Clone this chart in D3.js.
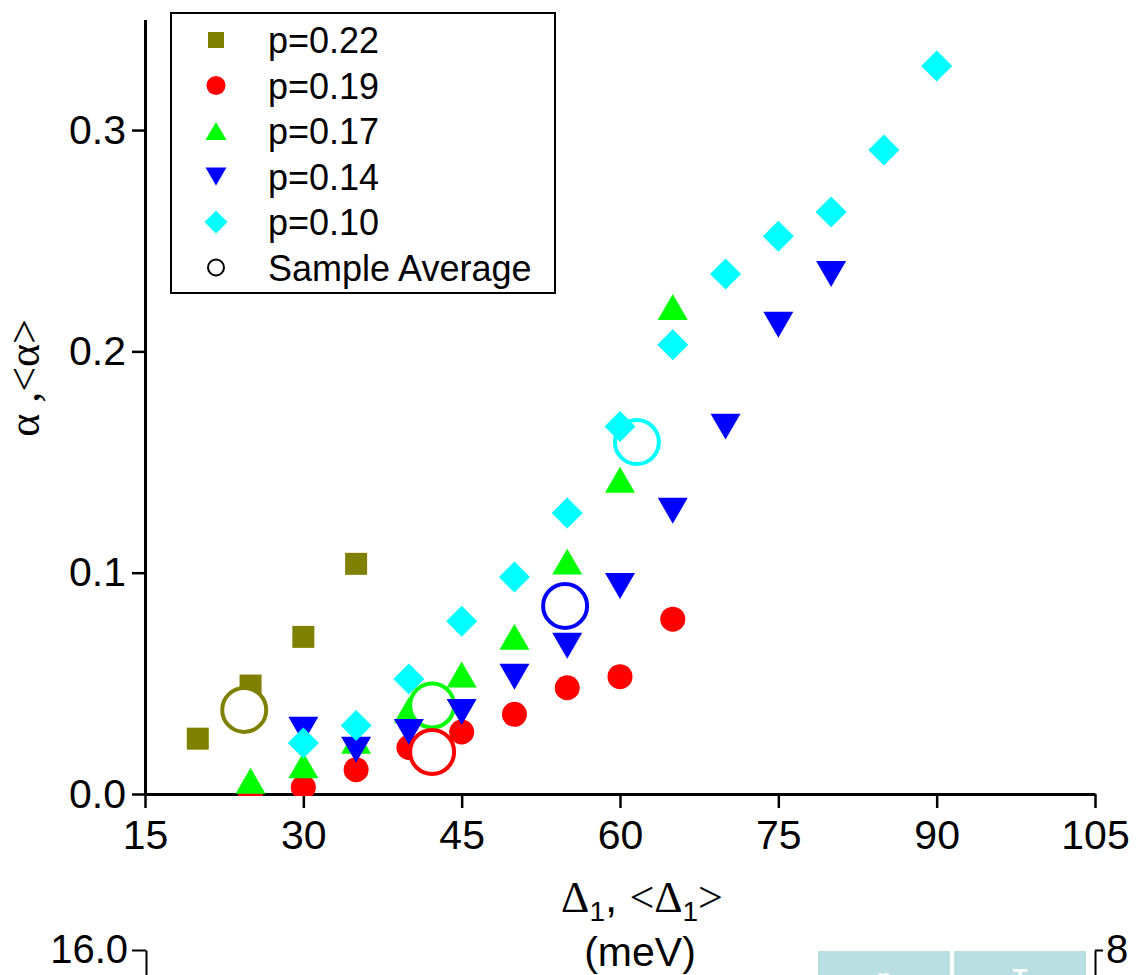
<!DOCTYPE html>
<html>
<head>
<meta charset="utf-8">
<script src="https://cdn.jsdelivr.net/npm/d3@7"></script>
<style>
  body { margin: 0; background: #fff; }
  svg { display: block; font-family: 'Liberation Sans', Arial, sans-serif; }
</style>
</head>
<body>
<div class="viz"></div>
<script>
// series (legend order)
const seriesNames = ['p=0.22', 'p=0.19', 'p=0.17', 'p=0.14', 'p=0.10']
const seriesColors = ['#808000', '#ff0000', '#00ff00', '#0000ff', '#00ffff']
const avgName = 'Sample Average'

// gap Delta_1 (meV) and alpha for each doping
const gap022 = [20, 25, 30, 35]
const alpha022 = [0.025, 0.049, 0.071, 0.104]
const gap019 = [25, 30, 35, 40, 45, 50, 55, 60, 65]
const alpha019 = [0.0, 0.003, 0.011, 0.021, 0.028, 0.036, 0.048, 0.053, 0.079]
const gap017 = [25, 30, 35, 40, 45, 50, 55, 60, 65]
const alpha017 = [0.006, 0.013, 0.024, 0.038, 0.054, 0.071, 0.105, 0.142, 0.220]
const gap014 = [30, 35, 40, 45, 50, 55, 60, 65, 70, 75, 80]
const alpha014 = [0.029, 0.020, 0.028, 0.037, 0.053, 0.067, 0.094, 0.128, 0.166, 0.212, 0.235]
const gap010 = [30, 35, 40, 45, 50, 55, 60, 65, 70, 75, 80, 85, 90]
const alpha010 = [0.023, 0.031, 0.052, 0.078, 0.098, 0.127, 0.166, 0.203, 0.235, 0.252, 0.263, 0.291, 0.329]

// sample averages <Delta_1>, <alpha> (same order as seriesNames)
const avgGap = [24.4, 42.2, 42.2, 54.8, 61.6]
const avgAlpha = [0.038, 0.019, 0.040, 0.085, 0.159]

// ticks
const xMajor = [15, 30, 45, 60, 75, 90, 105]
const xMinor = [22.5, 37.5, 52.5, 67.5, 82.5, 97.5]
const yMajor = [0.0, 0.1, 0.2, 0.3]
const yMinor = [0.05, 0.15, 0.25, 0.35]

// lower panel (only its top edge is in view)
const lowerLeftTicks = [16.0]
const lowerRightTicks = [8]
const tableHeaders = ['p', 'T']

const gaps = [gap022, gap019, gap017, gap014, gap010]
const alphas = [alpha022, alpha019, alpha017, alpha014, alpha010]
const shapes = ['square', 'circle', 'up', 'down', 'diamond']
const markerSize = [22, 25, 30, 30, 31]
const legendSize = [16, 19, 21, 21, 23]

function markerPath(shape, s) {
  const h = s / 2
  const th = s * 0.866 / 2
  if (shape === 'square') return `M${-h},${-h}H${h}V${h}H${-h}Z`
  if (shape === 'circle') return `M${h},0A${h},${h} 0 1,1 ${-h},0A${h},${h} 0 1,1 ${h},0Z`
  if (shape === 'up') return `M0,${-th}L${h},${th}L${-h},${th}Z`
  if (shape === 'down') return `M0,${th}L${h},${-th}L${-h},${-th}Z`
  return `M0,${-h}L${h},0L0,${h}L${-h},0Z`
}

const W = 1136, H = 975
const svg = d3.select('.viz').append('svg')
  .attr('width', W).attr('height', H)

svg.append('rect').attr('width', W).attr('height', H).attr('fill', '#fff')

const x = d3.scaleLinear().domain([15, 105]).range([145, 1095])
const y = d3.scaleLinear().domain([0, 0.35]).range([794, 19.4])

function styleAxis(g, fs) {
  g.attr('font-family', null).attr('font-size', null)
  g.select('.domain').attr('stroke', '#000').attr('stroke-width', 3)
  g.selectAll('.tick line').attr('stroke', '#000').attr('stroke-width', 2.5)
  g.selectAll('.tick text').attr('fill', '#000').attr('font-size', fs)
}

// y axis
const yAxisG = svg.append('g').attr('transform', 'translate(145,0)')
yAxisG.call(d3.axisLeft(y).tickValues(yMinor).tickSize(7).tickSizeOuter(0).tickFormat(''))
yAxisG.call(d3.axisLeft(y).tickValues(yMajor).tickSize(13).tickSizeOuter(0).tickPadding(6).tickFormat(d3.format('.1f')))
styleAxis(yAxisG, 41)

// x axis
const xAxisG = svg.append('g').attr('transform', 'translate(0,794)')
xAxisG.call(d3.axisBottom(x).tickValues(xMinor).tickSize(9).tickSizeOuter(0).tickFormat(''))
xAxisG.call(d3.axisBottom(x).tickValues(xMajor).tickSize(14).tickSizeOuter(0).tickPadding(12).tickFormat(d3.format('d')))
styleAxis(xAxisG, 41)

// axis titles
const xTitle = svg.append('text')
  .attr('x', 642).attr('y', 912)
  .attr('text-anchor', 'middle')
  .attr('font-size', 44)
const xParts = [
  { t: 'Δ', serif: true }, { t: '1', sub: true }, { t: ', ' },
  { t: '<Δ', serif: true }, { t: '1', sub: true }, { t: '>', serif: true }
]
let shifted = false
xParts.forEach(p => {
  const ts = xTitle.append('tspan').text(p.t)
  if (p.serif) ts.attr('font-family', "'Liberation Serif', 'Times New Roman', serif")
  if (p.sub) { ts.attr('font-size', 28).attr('dy', 9); shifted = true }
  else if (shifted) { ts.attr('dy', -9); shifted = false }
})
svg.append('text')
  .attr('x', 640).attr('y', 966)
  .attr('text-anchor', 'middle')
  .attr('font-size', 41)
  .text('(meV)')

svg.append('text')
  .attr('transform', 'translate(39,378) rotate(-90)')
  .attr('text-anchor', 'middle')
  .attr('font-size', 44)
  .attr('font-family', "'Liberation Serif', 'Times New Roman', serif")
  .text('α ,<α>')

// markers, clipped at the bottom of the x axis line
svg.append('clipPath').attr('id', 'plotClip')
  .append('rect').attr('x', 0).attr('y', 0).attr('width', W).attr('height', 796)
const plot = svg.append('g').attr('clip-path', 'url(#plotClip)')

function drawPoints(i) {
  plot.append('g').selectAll('path')
    .data(d3.zip(gaps[i], alphas[i])).enter().append('path')
    .attr('d', markerPath(shapes[i], markerSize[i]))
    .attr('transform', d => `translate(${x(d[0])},${y(d[1])})`)
    .attr('fill', seriesColors[i])
}
function drawAverage(i) {
  plot.append('circle')
    .attr('cx', x(avgGap[i])).attr('cy', y(avgAlpha[i]))
    .attr('r', 22)
    .attr('fill', '#fff')
    .attr('stroke', seriesColors[i])
    .attr('stroke-width', 4)
}
drawPoints(0)
drawPoints(1)
drawAverage(0)
drawAverage(4)
drawPoints(2)
drawAverage(2)
drawPoints(3)
drawAverage(3)
drawPoints(4)
drawAverage(1)

// legend
const legend = svg.append('g')
legend.append('rect')
  .attr('x', 171).attr('y', 13).attr('width', 384).attr('height', 280)
  .attr('fill', '#fff').attr('stroke', '#000').attr('stroke-width', 2)
const legendItems = seriesNames.map((n, i) => ({ name: n, i })).concat([{ name: avgName, i: -1 }])
const rows = legend.selectAll('g.row')
  .data(legendItems).enter().append('g')
  .attr('transform', (d, k) => `translate(216,${40 + k * 45.5})`)
rows.filter(d => d.i >= 0).append('path')
  .attr('d', d => markerPath(shapes[d.i], legendSize[d.i]))
  .attr('fill', d => seriesColors[d.i])
rows.filter(d => d.i < 0).append('circle')
  .attr('r', 8).attr('fill', '#fff').attr('stroke', '#000').attr('stroke-width', 2)
rows.append('text')
  .attr('x', 52).attr('y', 13)
  .attr('font-size', 36)
  .text(d => d.name)

// lower panel: top of its two y axes and the header of its table
const lowerLeft = d3.scaleLinear().domain([0, 16]).range([1900, 950])
const lowerRight = d3.scaleLinear().domain([0, 8]).range([1900, 950])
const llG = svg.append('g').attr('transform', 'translate(146,0)')
  .call(d3.axisLeft(lowerLeft).tickValues(lowerLeftTicks).tickSize(14).tickSizeOuter(0).tickPadding(4).tickFormat(d3.format('.1f')))
styleAxis(llG, 40)
llG.select('.domain').attr('stroke-width', 2)
llG.selectAll('.tick line').attr('stroke-width', 2)
const lrG = svg.append('g').attr('transform', 'translate(1095,0)')
  .call(d3.axisRight(lowerRight).tickValues(lowerRightTicks).tickSize(8).tickSizeOuter(0).tickPadding(3).tickFormat(d3.format('d')))
styleAxis(lrG, 40)
lrG.select('.domain').attr('stroke-width', 2)
lrG.selectAll('.tick line').attr('stroke-width', 2)

const band = d3.scaleBand().domain(tableHeaders).range([818, 1086]).paddingInner(0.03)
const cells = svg.selectAll('g.cell')
  .data(tableHeaders).enter().append('g')
cells.append('rect')
  .attr('x', d => band(d)).attr('y', 951)
  .attr('width', band.bandwidth()).attr('height', 60)
  .attr('fill', '#badfe2')
cells.append('text')
  .attr('x', d => band(d) + band.bandwidth() / 2).attr('y', 986)
  .attr('text-anchor', 'middle')
  .attr('font-size', 24).attr('font-weight', 'bold')
  .attr('fill', '#fff')
  .text(d => d)
</script>
</body>
</html>
